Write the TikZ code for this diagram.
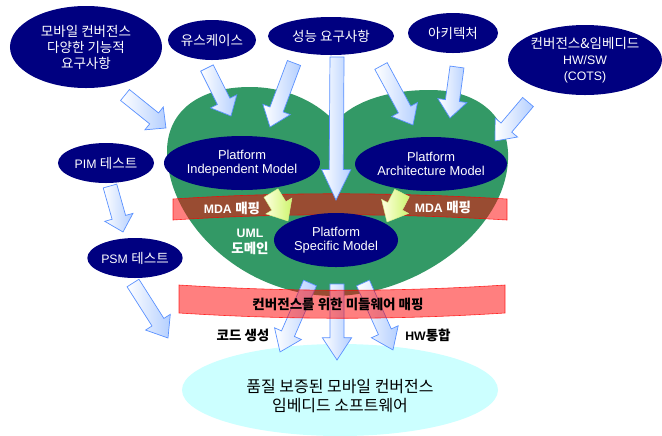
\documentclass[tikz,border=0pt]{standalone}
\usepackage{fontspec}
\setmainfont{Liberation Sans}
\newfontfamily\kr[Scale=1.1]{Noto Sans CJK KR}
\usetikzlibrary{shapes.geometric}
\definecolor{navy}{RGB}{0,0,128}
\definecolor{heartgreen}{RGB}{51,153,102}
\definecolor{abord}{RGB}{90,145,255}
\definecolor{afill}{RGB}{180,207,255}
\definecolor{mfill}{RGB}{205,245,110}
\definecolor{mbord}{RGB}{215,240,140}
\definecolor{lcyan}{RGB}{204,255,255}
\newcommand\arrSW{6pt}
\newcommand\arrHW{12.5pt}
\newcommand\blockarrow[4][barrow]{%
  \pgfpointdiff{\pgfpointanchor{#2}{center}}{\pgfpointanchor{#3}{center}}%
  \pgfgetlastxy{\arrDX}{\arrDY}%
  \pgfmathsetmacro\arrAng{atan2(\arrDY,\arrDX)}%
  \pgfmathsetmacro\arrLen{veclen(\arrDX,\arrDY)}%
  \begin{scope}[shift={(#2)},rotate=\arrAng]
    \shade[#1] (0pt,-\arrSW) -- ({\arrLen pt-#4},-\arrSW) -- ({\arrLen pt-#4},-\arrHW)
      -- (\arrLen pt,0pt) -- ({\arrLen pt-#4},\arrHW) -- ({\arrLen pt-#4},\arrSW)
      -- (0pt,\arrSW) -- cycle;
  \end{scope}%
}
\begin{document}
\begin{tikzpicture}[x=0.03cm,y=-0.03cm,
  navyell/.style={ellipse, fill=navy, text=white, inner sep=0pt, align=center,
    font=\fontsize{10.5}{12.5}\selectfont},
  barrow/.style={draw=abord, line width=0.6pt, left color=white, right color=afill},
  marrow/.style={draw=mbord, line width=0.4pt, left color=white!60!yellow!30, right color=mfill},
  band/.style={fill=red, fill opacity=0.5, draw=red, draw opacity=0.8, line width=0.5pt},
  wlab/.style={text=white, align=center, inner sep=0pt, font=\fontsize{10.5}{13}\selectfont\bfseries},
  blab/.style={text=black, align=center, inner sep=0pt, font=\fontsize{10.5}{12}\selectfont\bfseries}]
\useasboundingbox (0,0) rectangle (662,435);

% bottom result ellipse
\node[ellipse, fill=lcyan, minimum width=9.48cm, minimum height=2.76cm, inner sep=0pt] (res) at (340,390) {};
\node[align=center, inner sep=0pt, font=\fontsize{12.4}{15.4}\selectfont] (restext) at (340,396)
  {\kr 품질 보증된 모바일 컨버전스\\\kr 임베디드 소프트웨어};

% heart
\fill[heartgreen] (335,296) .. controls (240,296) and (166,220) .. (167,150)
  .. controls (168,110) and (200,87) .. (250,87)
  .. controls (290,87) and (320,105) .. (335,122)
  .. controls (355,100) and (390,90) .. (430,90)
  .. controls (480,90) and (510,118) .. (508,160)
  .. controls (505,230) and (420,294) .. (335,296) -- cycle;

% top requirement ellipses
\node[navyell, minimum width=4.56cm, minimum height=2.46cm, font=\fontsize{10.5}{13.6}\selectfont] (func) at (86,47)
  {\kr 모바일 컨버전스\\\kr 다양한 기능적\\\kr 요구사항};
\node[navyell, minimum width=2.64cm, minimum height=1.2cm] (uc) at (212,40) {\kr 유스케이스};
\node[navyell, minimum width=3.78cm, minimum height=1.14cm] (perf) at (331,36) {\kr 성능 요구사항};
\node[navyell, minimum width=2.7cm, minimum height=1.2cm] (arch) at (453,33) {\kr 아키텍처};
\node[navyell, minimum width=4.14cm, minimum height=2.1cm, font=\fontsize{10.5}{13.4}\selectfont] (cots) at (585,60)
  {\kr 컨버전스\&임베디드\\HW/SW\\(COTS)};
\node[navyell, minimum width=2.88cm, minimum height=1.2cm] (pimt) at (106,163) {PIM {\kr 테스트}};
\node[navyell, minimum width=2.82cm, minimum height=1.2cm] (psmt) at (135,258) {PSM {\kr 테스트}};

% arrow end points
\coordinate (a1s) at (125,95);  \coordinate (a1e) at (166,128);
\coordinate (a2s) at (207,68);  \coordinate (a2e) at (231,116);
\coordinate (a3s) at (294,63);  \coordinate (a3e) at (270,127);
\coordinate (a4s) at (337,57);  \coordinate (a4e) at (336,200);
\coordinate (a5s) at (381,66);  \coordinate (a5e) at (413,125);
\coordinate (a6s) at (457,67);  \coordinate (a6e) at (450,118);
\coordinate (a7s) at (528,102); \coordinate (a7e) at (495,141);
\coordinate (a8s) at (110,186); \coordinate (a8e) at (123,232);
\coordinate (a9s) at (133,283); \coordinate (a9e) at (168,338);
\coordinate (b1s) at (310,283); \coordinate (b1e) at (280,352);
\coordinate (b2s) at (337,284); \coordinate (b2e) at (337,360);
\coordinate (b3s) at (363,283); \coordinate (b3e) at (393,350);
\coordinate (m1s) at (271,193); \coordinate (m1e) at (288,221);
\coordinate (m2s) at (402,193); \coordinate (m2e) at (387,222);

\blockarrow{a1s}{a1e}{13pt}
\blockarrow{a2s}{a2e}{14pt}
\blockarrow{a3s}{a3e}{16pt}
\blockarrow{a5s}{a5e}{15pt}
\blockarrow{a6s}{a6e}{15pt}
\blockarrow{a7s}{a7e}{15pt}
\blockarrow{a8s}{a8e}{13pt}
\blockarrow{a9s}{a9e}{16pt}
\blockarrow{b1s}{b1e}{17pt}
\blockarrow{b2s}{b2e}{19pt}
\blockarrow{b3s}{b3e}{17pt}

% mapping bands
\path[band] (173,199) .. controls (280,192) and (390,192) .. (507,199)
  -- (507,220) .. controls (390,213) and (280,213) .. (173,220) -- cycle;
\path[band] (179,285) .. controls (290,292) and (395,292) .. (505,285)
  -- (505,313) .. controls (395,320) and (290,320) .. (179,313) -- cycle;

\blockarrow{a4s}{a4e}{26pt}

% model ellipses
\node[navyell, minimum width=3.72cm, minimum height=1.62cm, font=\fontsize{11}{12.5}\selectfont] (pim) at (242,163)
  {Platform\\Independent Model};
\node[navyell, minimum width=3.72cm, minimum height=1.62cm, font=\fontsize{11}{12.5}\selectfont] (pam) at (431,164)
  {Platform\\Architecture Model};
\node[navyell, minimum width=3.72cm, minimum height=1.62cm, font=\fontsize{11}{12.5}\selectfont] (psm) at (336,240)
  {Platform\\Specific Model};

% MDA arrows
\renewcommand\arrSW{7pt}\renewcommand\arrHW{13pt}
\blockarrow[marrow]{m1s}{m1e}{15pt}
\blockarrow[marrow]{m2s}{m2e}{15pt}

% labels
\node[wlab] (mda1) at (232,208) {MDA {\kr 매핑}};
\node[wlab] (mda2) at (443,207) {MDA {\kr 매핑}};
\node[wlab] (uml) at (250,242) {UML\\\kr 도메인};
\node[blab] (mw) at (338,304) {\kr 컨버전스를 위한 미들웨어 매핑};
\node[blab] (code) at (243,335) {\kr 코드 생성};
\node[blab] (hw) at (428,335) {HW{\kr 통합}};
\end{tikzpicture}
\end{document}
